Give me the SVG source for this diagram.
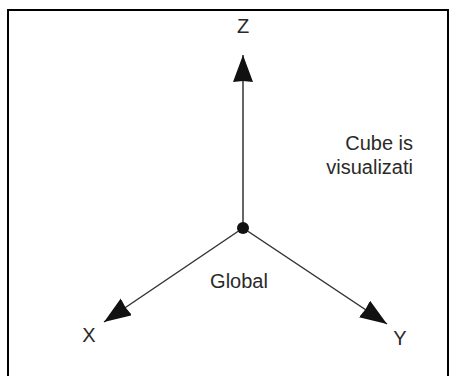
<svg xmlns="http://www.w3.org/2000/svg" width="456" height="376" viewBox="0 0 456 376">
  <style>
    .lbl { font-family: "Liberation Sans", Arial, sans-serif; font-size: 20px; fill: #2a2a2a; }
    .axis { stroke: #333; stroke-width: 1.5; fill: none; marker-end: url(#arrow); }
  </style>
  <defs>
    <marker id="arrow" markerUnits="userSpaceOnUse" markerWidth="30" markerHeight="22" refX="27" refY="10" orient="auto">
      <path d="M0,0 L27,10 L0,20 L1,10 z" fill="#111"/>
    </marker>
  </defs>
  <rect x="0" y="0" width="456" height="376" fill="#fff"/>
  <rect id="frame" x="8" y="10" width="440" height="380" fill="none" stroke="#000" stroke-width="2"/>
  <g id="connectors">
    <line class="axis" x1="243" y1="228" x2="243" y2="55"/>
    <line class="axis" x1="243" y1="228" x2="104" y2="322"/>
    <line class="axis" x1="243" y1="228" x2="387" y2="324"/>
  </g>
  <g id="origin">
    <circle cx="243" cy="228" r="6" fill="#111"/>
    <text class="lbl" x="239" y="288" text-anchor="middle">Global</text>
  </g>
  <g id="z-axis"><text class="lbl" x="243" y="33" text-anchor="middle">Z</text></g>
  <g id="x-axis"><text class="lbl" x="89" y="342" text-anchor="middle">X</text></g>
  <g id="y-axis"><text class="lbl" x="400" y="345" text-anchor="middle">Y</text></g>
  <g id="note">
    <text class="lbl" x="413" y="150" text-anchor="end">Cube is</text>
    <text class="lbl" x="413" y="174" text-anchor="end">visualizati</text>
  </g>
</svg>
